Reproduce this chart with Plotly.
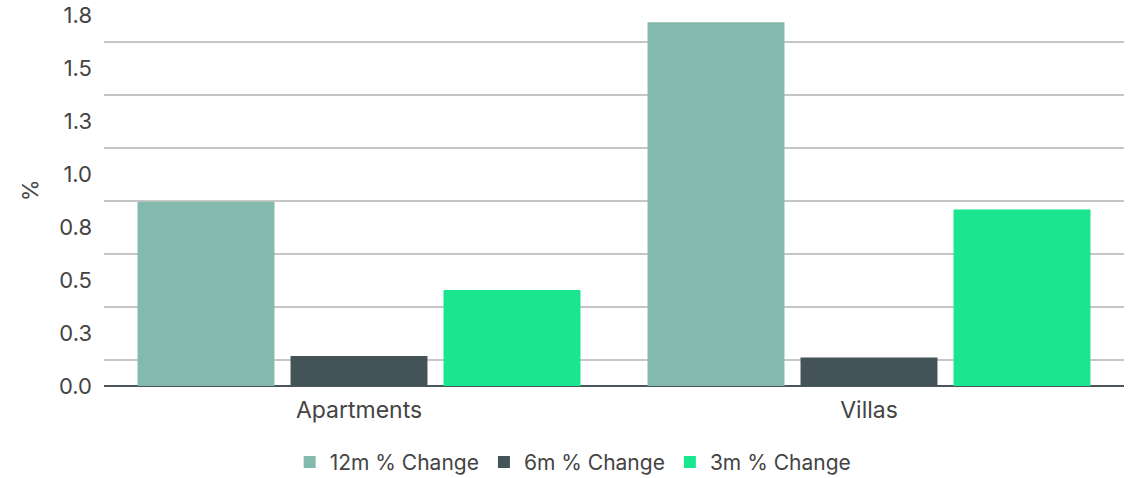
import plotly.graph_objects as go

categories = ["Apartments", "Villas"]
series_names = ["12m % Change", "6m % Change", "3m % Change"]
change_12m = [0.869, 1.716]
change_6m = [0.142, 0.135]
change_3m = [0.453, 0.833]
series_colors = ["#82BAAD", "#435357", "#19E68F"]

tick_values = [0, 0.25, 0.5, 0.75, 1.0, 1.25, 1.5, 1.75]
tick_labels = ["0.0", "0.3", "0.5", "0.8", "1.0", "1.3", "1.5", "1.8"]

font_family = "Inter, Roboto, sans-serif"
text_color = "#444444"

fig = go.Figure()
for name, values, color in zip(series_names, [change_12m, change_6m, change_3m], series_colors):
    fig.add_trace(go.Bar(
        x=categories, y=values, name=name,
        marker=dict(color=color, line=dict(width=0)),
        hoverinfo="x+y+name",
    ))

# unit label on the value axis
fig.add_annotation(
    text="%", textangle=-90, showarrow=False,
    xref="paper", x=0, xanchor="center", xshift=-74,
    yref="paper", y=0.521, yanchor="middle",
    font=dict(size=22, color=text_color),
)

fig.update_layout(
    width=1135, height=478,
    margin=dict(l=104, r=11, t=10, b=92, autoexpand=False),
    paper_bgcolor="white", plot_bgcolor="white",
    barmode="group", bargap=0.1, bargroupgap=0.105,
    font=dict(family=font_family, size=20, color=text_color),
    showlegend=True,
    legend=dict(
        orientation="h", xref="container", yref="container",
        x=0.505, xanchor="center", y=0.033, yanchor="middle",
        font=dict(size=21, color=text_color),
        itemwidth=30, tracegroupgap=0,
    ),
    xaxis=dict(
        automargin=False,
        showgrid=False, showline=False, ticks="",
        tickfont=dict(size=23, color=text_color),
        ticklabelstandoff=8,
    ),
    yaxis=dict(
        automargin=False,
        range=[0, 1.774],
        tickvals=tick_values, ticktext=tick_labels,
        showgrid=False,
        minor=dict(tick0=0.125, dtick=0.25, showgrid=True,
                   gridcolor="#C6C6C6", gridwidth=2),
        zeroline=True, zerolinecolor="#4A5559", zerolinewidth=2,
        showline=False, ticks="",
        tickfont=dict(size=22, color=text_color),
        ticklabelstandoff=11,
    ),
)

fig.write_html("out.html")
